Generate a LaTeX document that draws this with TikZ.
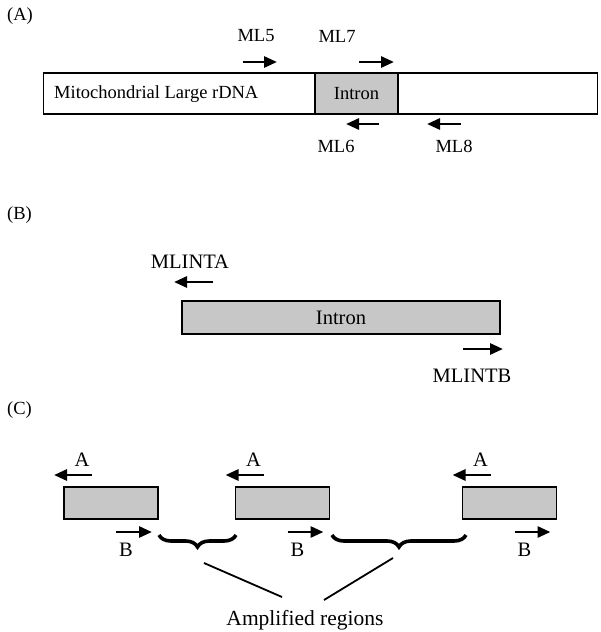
\documentclass[tikz,border=0pt]{standalone}
\usepackage{fontspec}
\setmainfont{Liberation Serif}
\usetikzlibrary{arrows.meta,positioning,decorations.pathreplacing,calc}

\begin{document}
\begin{tikzpicture}[
            x=1pt, y=-1pt,
            font=\fontsize{18.5}{20}\selectfont,
            seg/.style={draw, line width=1.8pt, fill=white, inner sep=0pt,
            minimum height=41pt},
            intr/.style={seg, fill=black!22},
            minibox/.style={intr, minimum height=32pt, minimum width=94pt},
            primer/.style={line width=2.8pt, -{Triangle[length=13pt,width=11pt]}},
            lbl/.style={inner sep=1pt},
            big/.style={font=\fontsize{20.5}{22}\selectfont},
            brc/.style={decorate, decoration={brace, mirror, amplitude=12pt},
            line width=3.6pt},
            ptr/.style={line width=1.8pt}
        ]
            \useasboundingbox (0,0) rectangle (600,632);
% part (A): rDNA with intron
            \node[lbl, anchor=west] (la) at (6,16) {(A)};
            \node[seg, minimum width=554pt]  (rdna) at (320.5,93.5) {};
            \node[intr, minimum width=83pt]  (inA)  at (356.5,93.5) {Intron};
            \node[lbl, anchor=west] (rdnat) at (53,94) {Mitochondrial Large rDNA};
            \draw[primer] (243,62) -- (277,62);
            \draw[primer] (359,62) -- (394,62);
            \draw[primer] (379,124) -- (346,124);
            \draw[primer] (461,124) -- (427,124);
            \node[lbl] (ml5) at (256,36)  {ML5};
            \node[lbl] (ml7) at (337,36)  {ML7};
            \node[lbl] (ml6) at (336,146) {ML6};
            \node[lbl] (ml8) at (454,146) {ML8};
% part (B): intron with inverse primers
            \node[lbl, anchor=west] (lb) at (6,215) {(B)};
            \node[intr, big, minimum width=318pt, minimum height=33pt] (inB) at (341,317.5) {Intron};
            \draw[primer] (213,282) -- (174,282);
            \draw[primer] (463,349) -- (503,349);
            \node[lbl, big] (mla) at (190,262) {MLINTA};
            \node[lbl, big] (mlb) at (472,376) {MLINTB};
% part (C): amplified regions
            \node[lbl, anchor=west] (lc) at (6,410) {(C)};
            \foreach \cx/\n in {111/1, 282.5/2, 509.5/3}{
                \node[minibox] (box\n) at (\cx,503) {};
                \draw[primer] (\cx-19,475) -- (\cx-57,475);
                \draw[primer] (\cx+5,532) -- (\cx+41,532);
                \node[lbl, big] (pa\n) at (\cx-29,460) {A};
                \node[lbl, big] (pb\n) at (\cx+15,550) {B};
            }
            \coordinate (b1l) at (159,535);
            \coordinate (b1r) at (236,535);
            \coordinate (b2l) at (332,535);
            \coordinate (b2r) at (466,535);
            \draw[brc] (b1l) -- (b1r);
            \draw[brc] (b2l) -- (b2r);
            \node[lbl, font=\fontsize{21.5}{23}\selectfont] (amp) at (305,620) {Amplified regions};
            \coordinate (t1) at (204,563);
            \coordinate (t2) at (393,558);
            \coordinate (e1) at (282,597);
            \coordinate (e2) at (324,600);
            \draw[ptr] (t1) -- (e1);
            \draw[ptr] (t2) -- (e2);
        \end{tikzpicture}
\end{document}
